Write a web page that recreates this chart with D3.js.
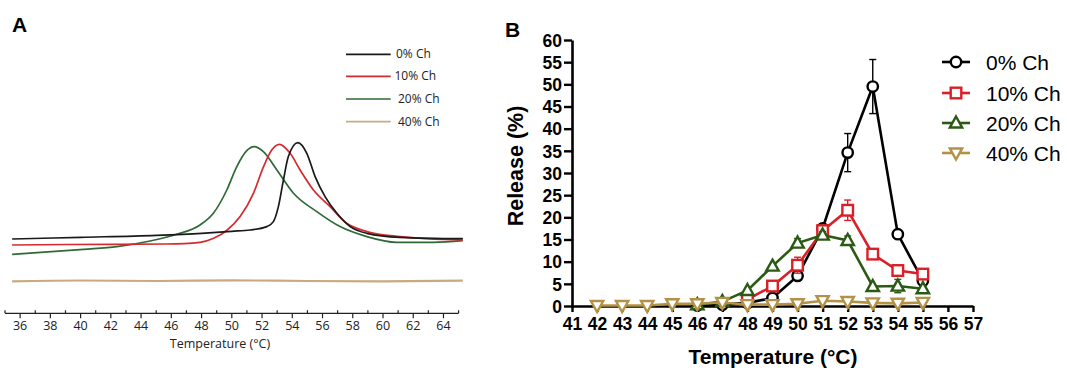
<!DOCTYPE html>
<html><head><meta charset="utf-8">
<script src="https://cdn.jsdelivr.net/npm/d3@7"></script>
<style>
html,body{margin:0;padding:0;background:#fff;}
svg{display:block;}
</style></head>
<body>
<svg id="c" width="1067" height="370"></svg>
<script>
// ---------- Panel A data (DSC thermograms, arbitrary units) ----------
const seriesA = ["0% Ch", "10% Ch", "20% Ch", "40% Ch"];
const colorsA = ["#1a1a1a", "#d42a30", "#2f6a35", "#c8aa80"];
const tempA0 = [35.47, 40, 45, 48, 50, 51.21, 52.32, 52.75, 53.08, 53.41, 53.74, 54.37, 54.96, 55.51, 56.17, 56.95, 57.83, 58.93, 61.13, 65.28];
const valA0  = [74.3, 76, 78, 80, 82, 83.3, 86.7, 91.7, 106.7, 133, 156.7, 170.7, 160, 136.7, 116.7, 100, 86.7, 80, 76, 74.6];
const tempA1 = [35.47, 39.1, 45.7, 47.9, 48.8, 49.7, 50.55, 51.43, 52.1, 52.64, 53.15, 53.86, 54.52, 55.4, 56.5, 57.6, 58.93, 61.13, 65.28];
const valA1  = [68.3, 68.8, 69.3, 71, 75, 83.3, 96.7, 120, 146.7, 163.3, 169, 160, 143.3, 123.3, 106.7, 90, 81.7, 76.7, 73.3];
const tempA2 = [35.47, 40.2, 42.4, 44.6, 46.36, 47.9, 48.78, 49.67, 50.33, 50.99, 51.48, 52.09, 52.98, 54.08, 55.62, 57.16, 58.93, 60.9, 63.34, 65.28];
const valA2  = [59, 64, 66.7, 72.3, 79, 88.3, 100, 123.3, 146.7, 162.7, 166.7, 161.7, 143.3, 120, 101.7, 86.7, 76.7, 71, 71, 72.7];
const tempA3 = [35.47, 40, 45, 50, 55, 60, 65.28];
const valA3  = [32, 32.8, 32.3, 33, 32.3, 32, 32.6];
const tickLabelsA = [36, 38, 40, 42, 44, 46, 48, 50, 52, 54, 56, 58, 60, 62, 64];

// ---------- Panel B data (release %) ----------
const seriesB = ["0% Ch", "10% Ch", "20% Ch", "40% Ch"];
const colorsB = ["#000000", "#db1f26", "#2b5a14", "#b39247"];
const tempB0 = [46, 47, 48, 49, 50, 51, 52, 53, 54, 55];
const relB0  = [0.1, 0.3, 0.7, 1.8, 6.8, 17.5, 34.6, 49.5, 16.2, 5.7];
const errB0  = [0, 0, 0, 0, 0.4, 1.0, 4.3, 6.1, 0, 0];
const tempB1 = [48, 49, 50, 51, 52, 53, 54, 55];
const relB1  = [1.5, 4.5, 9.2, 17, 21.6, 11.7, 8.0, 7.2];
const errB1  = [0, 0, 1.8, 0.6, 2.3, 0, 0, 0];
const tempB2 = [46, 47, 48, 49, 50, 51, 52, 53, 54, 55];
const relB2  = [0.3, 1.0, 3.5, 9.0, 14.2, 16, 14.8, 4.4, 4.5, 3.9];
const errB2  = [0, 0, 0, 0, 1.0, 0.8, 1.0, 0, 1.5, 0.5];
const tempB3 = [42, 43, 44, 45, 46, 47, 48, 49, 50, 51, 52, 53, 54, 55];
const relB3  = [0.1, 0.1, 0.1, 0.5, 0.5, 0.8, 0.3, 0.3, 0.5, 1.2, 1.0, 0.7, 0.6, 0.8];
const xTicksB = [41, 42, 43, 44, 45, 46, 47, 48, 49, 50, 51, 52, 53, 54, 55, 56, 57];
const yTicksB = [0, 5, 10, 15, 20, 25, 30, 35, 40, 45, 50, 55, 60];

const svg = d3.select("#c");

// ================= Panel A =================
const gA = svg.append("g");
const xA = d3.scaleLinear().domain([35, 65]).range([5, 458.6]);
const yA = d3.scaleLinear().domain([0, 200]).range([313.3, 113.3]);
const fontA = "'Open Sans', 'Noto Sans', sans-serif";

gA.append("text").attr("x", 12).attr("y", 32).text("A")
  .attr("font-family", "'Liberation Sans', Arial, sans-serif").attr("font-weight", "bold").attr("font-size", 21);

const lineA = d3.line().x(d => xA(d[0])).y(d => yA(d[1])).curve(d3.curveMonotoneX);
const dataA = [[tempA0, valA0], [tempA1, valA1], [tempA2, valA2], [tempA3, valA3]];
[3, 2, 1, 0].forEach(i => {
  const pts = dataA[i][0].map((t, k) => [t, dataA[i][1][k]]);
  gA.append("path").attr("d", lineA(pts)).attr("fill", "none")
    .attr("stroke", colorsA[i]).attr("stroke-width", i === 3 ? 2.2 : 1.7);
});

const axY = yA(0);
gA.append("line").attr("x1", xA(35)).attr("x2", xA(65)).attr("y1", axY).attr("y2", axY)
  .attr("stroke", "#222").attr("stroke-width", 1.2);
d3.range(35, 66).forEach(t => {
  const even = t % 2 === 0;
  gA.append("line").attr("x1", xA(t)).attr("x2", xA(t))
    .attr("y1", even ? axY : axY - 3).attr("y2", even ? axY + 5 : axY)
    .attr("stroke", "#222").attr("stroke-width", 1.2);
});
gA.selectAll("text.tla").data(tickLabelsA).enter().append("text")
  .attr("class", "tla").attr("x", d => xA(d)).attr("y", 330)
  .attr("text-anchor", "middle").attr("font-family", fontA).attr("font-size", 12.5)
  .attr("fill", "#222").text(d => d);
gA.append("text").attr("x", 220).attr("y", 348).attr("text-anchor", "middle")
  .attr("font-family", fontA).attr("font-size", 12.5).attr("fill", "#222")
  .text("Temperature (°C)");

const legYA = [54.3, 76.3, 99, 121.7];
seriesA.forEach((s, i) => {
  gA.append("line").attr("x1", 346).attr("x2", 390.7).attr("y1", legYA[i]).attr("y2", legYA[i])
    .attr("stroke", colorsA[i]).attr("stroke-width", 1.7);
  gA.append("text").attr("x", i === 0 ? 396 : (i === 1 ? 394.5 : 398)).attr("y", legYA[i] + 4)
    .attr("font-family", fontA).attr("font-size", 12).attr("fill", "#222").text(s);
});

// ================= Panel B =================
const gB = svg.append("g");
const xB = d3.scaleLinear().domain([41, 57]).range([572, 973]);
const yB = d3.scaleLinear().domain([0, 60]).range([306, 40]);
const fontB = "'Liberation Sans', Arial, sans-serif";

gB.append("text").attr("x", 505).attr("y", 37).text("B")
  .attr("font-family", fontB).attr("font-weight", "bold").attr("font-size", 21);

const axL = gB.append("g").attr("transform", `translate(${xB(41)},0)`)
  .call(d3.axisLeft(yB).tickValues(yTicksB).tickSize(8).tickPadding(2).tickSizeOuter(0));
const axB = gB.append("g").attr("transform", `translate(0,${yB(0)})`)
  .call(d3.axisBottom(xB).tickValues(xTicksB).tickSize(6).tickPadding(6).tickSizeOuter(0));
[axL, axB].forEach(a => {
  a.select(".domain").attr("stroke", "#000").attr("stroke-width", 2.6);
  a.selectAll(".tick line").attr("stroke", "#000").attr("stroke-width", 2.4);
  a.selectAll(".tick text").attr("font-family", fontB).attr("font-weight", "bold")
    .attr("font-size", 17.5).attr("fill", "#000");
});
axL.selectAll(".tick text").attr("dy", "0.36em");

gB.append("text").attr("transform", "translate(523,166) rotate(-90)")
  .attr("text-anchor", "middle").attr("font-family", fontB).attr("font-weight", "bold")
  .attr("font-size", 21.5).text("Release (%)");
gB.append("text").attr("x", 773).attr("y", 364).attr("text-anchor", "middle")
  .attr("font-family", fontB).attr("font-weight", "bold").attr("font-size", 21)
  .text("Temperature (°C)");

function marker(g, type, cx, cy, color) {
  if (type === 0) {
    g.append("circle").attr("cx", cx).attr("cy", cy).attr("r", 5.2)
      .attr("fill", "#fff").attr("stroke", color).attr("stroke-width", 2.4);
  } else if (type === 1) {
    g.append("rect").attr("x", cx - 5.3).attr("y", cy - 5.3).attr("width", 10.6).attr("height", 10.6)
      .attr("fill", "#fff").attr("stroke", color).attr("stroke-width", 2.4);
  } else if (type === 2) {
    const s = 6.5;
    g.append("path").attr("d", `M${cx},${cy - s} L${cx + s * 0.95},${cy + s * 0.7} L${cx - s * 0.95},${cy + s * 0.7} Z`)
      .attr("fill", "#fff").attr("stroke", color).attr("stroke-width", 2.4);
  } else {
    const s = 6.5;
    g.append("path").attr("d", `M${cx},${cy + s} L${cx + s * 0.95},${cy - s * 0.7} L${cx - s * 0.95},${cy - s * 0.7} Z`)
      .attr("fill", "#fff").attr("stroke", color).attr("stroke-width", 2.4);
  }
}

const dataB = [[tempB0, relB0, errB0], [tempB1, relB1, errB1], [tempB2, relB2, errB2], [tempB3, relB3, null]];
const lineB = d3.line().x(d => xB(d[0])).y(d => yB(d[1]));
dataB.forEach((ds, i) => {
  const g = gB.append("g");
  const pts = ds[0].map((t, k) => [t, ds[1][k]]);
  if (ds[2]) {
    ds[0].forEach((t, k) => {
      const e = ds[2][k];
      if (e > 0) {
        const x = xB(t), y1 = yB(ds[1][k] - e), y2 = yB(ds[1][k] + e);
        g.append("line").attr("x1", x).attr("x2", x).attr("y1", y1).attr("y2", y2)
          .attr("stroke", colorsB[i]).attr("stroke-width", 1.4);
        [y1, y2].forEach(yy => g.append("line").attr("x1", x - 3.5).attr("x2", x + 3.5)
          .attr("y1", yy).attr("y2", yy).attr("stroke", colorsB[i]).attr("stroke-width", 1.4));
      }
    });
  }
  g.append("path").attr("d", lineB(pts)).attr("fill", "none")
    .attr("stroke", colorsB[i]).attr("stroke-width", 2.6);
  pts.forEach(p => marker(g, i, xB(p[0]), yB(p[1]), colorsB[i]));
});

const legYB = [62, 93, 123, 153];
seriesB.forEach((s, i) => {
  const g = gB.append("g");
  g.append("line").attr("x1", 942).attr("x2", 970).attr("y1", legYB[i]).attr("y2", legYB[i])
    .attr("stroke", colorsB[i]).attr("stroke-width", 2.6);
  marker(g, i, 956, legYB[i], colorsB[i]);
  g.append("text").attr("x", 986).attr("y", legYB[i] + 7.5).attr("font-family", fontB)
    .attr("font-size", 21).attr("fill", "#000").text(s);
});
</script>
</body></html>
